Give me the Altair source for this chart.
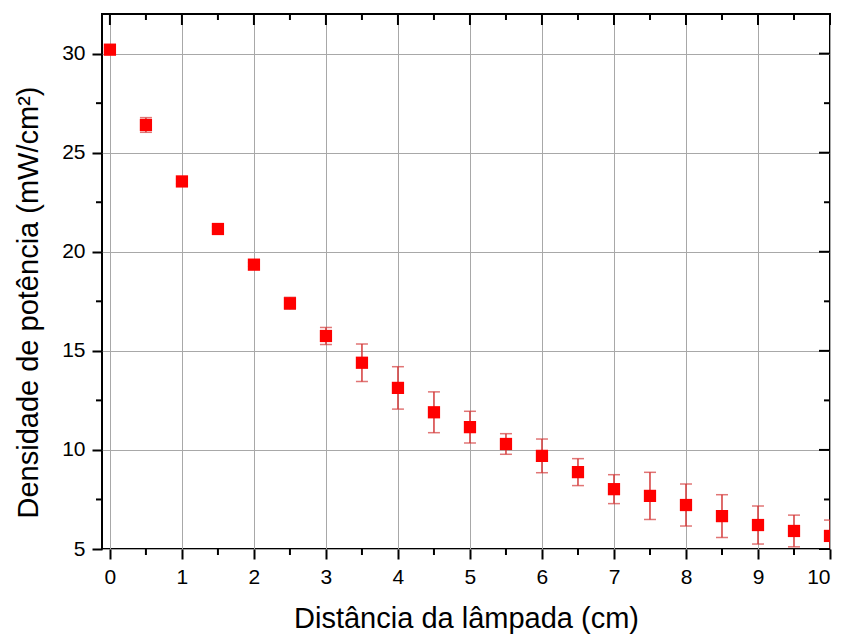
import altair as alt
import pandas as pd

# data
dist = [0, 0.5, 1, 1.5, 2, 2.5, 3, 3.5, 4, 4.5, 5, 5.5, 6, 6.5, 7, 7.5, 8, 8.5, 9, 9.5, 10]
dens = [30.2, 26.4, 23.55, 21.15, 19.35, 17.4, 15.75, 14.4, 13.13, 11.9, 11.15, 10.3, 9.7,
        8.88, 8.02, 7.68, 7.22, 6.66, 6.21, 5.91, 5.66]
err = [0.1, 0.37, 0.12, 0.1, 0.1, 0.3, 0.43, 0.95, 1.07, 1.03, 0.8, 0.52, 0.85,
       0.68, 0.73, 1.19, 1.06, 1.08, 0.96, 0.8, 0.8]

x_major = [0, 1, 2, 3, 4, 5, 6, 7, 8, 9, 10]
x_minor = [0.5, 1.5, 2.5, 3.5, 4.5, 5.5, 6.5, 7.5, 8.5, 9.5]
y_major = [5, 10, 15, 20, 25, 30]
y_minor = [7.5, 12.5, 17.5, 22.5, 27.5]

W, H = 728, 535
FONT = "Liberation Sans"

df = pd.DataFrame({"x": dist, "y": dens, "lo": [d - e for d, e in zip(dens, err)],
                   "hi": [d + e for d, e in zip(dens, err)]})

xs = alt.Scale(domain=[-0.11, 10], nice=False, zero=False)
ys = alt.Scale(domain=[5, 32], nice=False, zero=False)

xaxis = alt.Axis(
    values=x_major, title="Distância da lâmpada (cm)", grid=True, gridColor="#a8a8a8",
    gridWidth=1, domain=False, tickSize=10, tickWidth=2, tickColor="black",
    labelFont=FONT, labelFontSize=21, labelColor="black", labelPadding=7,
    titleFont=FONT, titleFontSize=29, titleFontWeight="normal", titleColor="black",
    titleY=78, titleBaseline="alphabetic")
yaxis = alt.Axis(
    values=y_major, title="Densidade de potência (mW/cm²)", grid=True, gridColor="#a8a8a8",
    gridWidth=1, domain=False, tickSize=10, tickWidth=2, tickColor="black",
    labelFont=FONT, labelFontSize=21, labelColor="black", labelPadding=7,
    titleFont=FONT, titleFontSize=29, titleFontWeight="normal", titleColor="black",
    titleX=-65, titleY=288, titleBaseline="alphabetic")

def X(f):
    return alt.X(f, scale=xs, axis=xaxis)

def Y(f):
    return alt.Y(f, scale=ys, axis=yaxis)

base = alt.Chart(df)
ERRC = "#d43a3a"

err_rule = base.mark_rule(color=ERRC, strokeWidth=1.5, clip=True).encode(
    x=X("x:Q"), y=Y("lo:Q"), y2="hi:Q")
cap_hi = base.mark_tick(color=ERRC, orient="horizontal", size=12, thickness=1.5, clip=True).encode(
    x=X("x:Q"), y=Y("hi:Q"))
cap_lo = base.mark_tick(color=ERRC, orient="horizontal", size=12, thickness=1.5, clip=True).encode(
    x=X("x:Q"), y=Y("lo:Q"))
pts = base.mark_square(color="#ff0000", size=150, opacity=1, clip=True).encode(
    x=X("x:Q"), y=Y("y:Q"))

xmaj = alt.Chart(pd.DataFrame({"t": x_major}))
xmin = alt.Chart(pd.DataFrame({"t": x_minor}))
ymaj = alt.Chart(pd.DataFrame({"t": y_major}))
ymin = alt.Chart(pd.DataFrame({"t": y_minor}))

tick_style = dict(color="black", strokeWidth=2)

top_major = xmaj.mark_rule(**tick_style).encode(x=X("t:Q"), y=alt.value(0), y2=alt.value(11))
top_minor = xmin.mark_rule(**tick_style).encode(x=X("t:Q"), y=alt.value(0), y2=alt.value(6))
bot_minor = xmin.mark_rule(**tick_style).encode(x=X("t:Q"), y=alt.value(H), y2=alt.value(H + 6))
right_major = ymaj.mark_rule(**tick_style).encode(y=Y("t:Q"), x=alt.value(W), x2=alt.value(W - 11))
right_minor = ymin.mark_rule(**tick_style).encode(y=Y("t:Q"), x=alt.value(W), x2=alt.value(W - 6))
left_minor = ymin.mark_rule(**tick_style).encode(y=Y("t:Q"), x=alt.value(0), x2=alt.value(-6))

chart = alt.layer(
    err_rule, cap_hi, cap_lo, pts,
    top_major, top_minor, bot_minor, right_major, right_minor, left_minor,
).properties(
    width=W, height=H,
    autosize=alt.AutoSizeParams(type="none"),
    padding={"left": 94, "top": 6, "right": 7, "bottom": 86},
    background="white",
).configure_view(
    stroke="black", strokeWidth=2
)

chart.save("out.html", embed_options={"renderer": "svg", "actions": False})
